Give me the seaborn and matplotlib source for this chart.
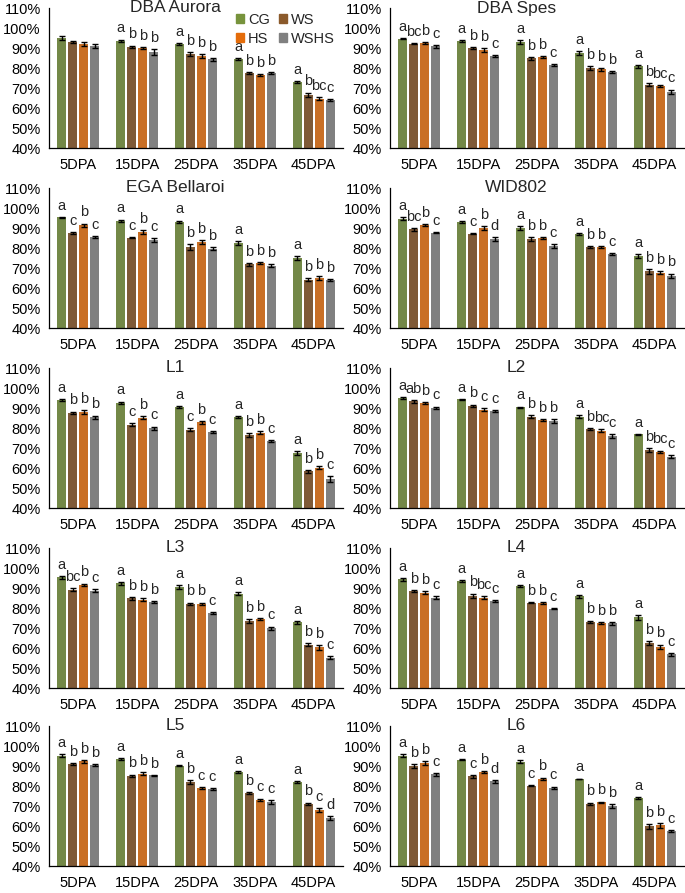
import pandas as pd
import seaborn as sns
import matplotlib.pyplot as plt

sns.set_style('white')
plt.rcParams['font.family'] = ['Liberation Sans', 'DejaVu Sans']

stages = ['5DPA', '15DPA', '25DPA', '35DPA', '45DPA']
treatments = ['CG', 'WS', 'HS', 'WSHS']
palette = {'CG': '#77933C', 'WS': '#8B5A2B', 'HS': '#E46C0A', 'WSHS': '#808080'}

titles = ['DBA Aurora', 'DBA Spes', 'EGA Bellaroi', 'WID802',
          'L1', 'L2', 'L3', 'L4', 'L5', 'L6']

# means (%), one row per stage, columns CG, WS, HS, WSHS
aurora = [[95.0, 93.0, 92.0, 91.0], [93.5, 90.5, 90.0, 88.0], [92.0, 87.0, 86.0, 84.3],
          [84.5, 77.5, 76.5, 77.3], [73.0, 66.5, 64.6, 64.0]]
spes = [[94.7, 92.2, 92.5, 90.8], [93.4, 90.0, 89.0, 86.0], [93.0, 84.8, 85.5, 81.4],
        [87.4, 80.0, 79.3, 78.0], [80.8, 71.6, 71.0, 68.0]]
bellaroi = [[95.3, 87.4, 91.4, 85.5], [93.6, 85.2, 88.0, 84.0], [93.0, 80.6, 83.0, 79.6],
            [82.4, 71.8, 72.5, 71.2], [75.0, 64.2, 65.0, 64.0]]
wid802 = [[94.7, 89.3, 91.3, 87.6], [93.0, 87.2, 90.0, 84.3], [90.0, 84.5, 85.0, 81.0],
          [87.0, 80.5, 80.4, 77.0], [76.0, 68.3, 67.7, 66.0]]
l1 = [[94.0, 87.6, 87.8, 85.3], [92.7, 81.7, 85.2, 79.8], [90.5, 79.2, 82.8, 78.0],
      [85.5, 76.5, 77.7, 73.6], [67.3, 58.3, 60.2, 54.3]]
l2 = [[95.0, 93.3, 92.5, 90.2], [94.3, 91.2, 89.2, 88.3], [90.4, 85.7, 84.0, 83.5],
      [85.7, 79.5, 78.7, 75.8], [76.8, 69.0, 68.0, 65.7]]
l3 = [[95.3, 89.2, 91.7, 88.7], [92.3, 84.8, 84.2, 83.0], [90.5, 82.0, 82.2, 77.6],
      [87.2, 73.5, 74.5, 69.8], [72.8, 61.7, 60.3, 55.2]]
l4 = [[94.3, 88.5, 87.7, 85.2], [93.5, 86.2, 85.2, 83.5], [91.0, 82.7, 82.5, 79.7],
      [85.8, 73.2, 72.5, 72.3], [75.3, 62.5, 60.5, 56.8]]
l5 = [[95.2, 91.0, 92.3, 90.5], [93.5, 85.2, 86.2, 85.3], [90.2, 81.8, 79.0, 78.5],
      [87.0, 76.3, 73.2, 72.0], [82.0, 71.0, 67.8, 64.0]]
l6 = [[95.2, 90.0, 91.5, 85.8], [93.2, 84.8, 87.0, 82.3], [92.2, 80.2, 83.5, 79.2],
      [83.5, 71.1, 71.8, 70.0], [73.8, 59.8, 60.3, 57.5]]

# standard errors (%)
aurora_err = [[0.8, 0.7, 1.2, 0.8], [0.7, 0.7, 0.5, 1.5], [0.6, 1.0, 0.8, 0.6],
              [0.6, 0.3, 0.3, 0.5], [0.4, 1.2, 0.7, 0.3]]
spes_err = [[0.3, 0.3, 0.3, 0.8], [0.5, 0.5, 0.8, 0.6], [0.8, 0.8, 0.5, 0.5],
            [1.0, 0.8, 0.8, 0.6], [0.8, 0.8, 0.6, 1.2]]
bellaroi_err = [[0.3, 0.5, 0.8, 0.5], [0.6, 0.4, 0.8, 1.0], [0.7, 1.5, 0.9, 0.7],
                [0.9, 0.6, 0.3, 0.7], [1.0, 0.8, 0.8, 0.6]]
wid802_err = [[0.8, 0.8, 0.5, 0.3], [0.5, 0.3, 0.8, 1.0], [0.8, 0.8, 0.6, 1.0],
              [0.6, 0.5, 0.6, 0.5], [0.8, 1.2, 0.8, 1.2]]
l1_err = [[0.5, 0.6, 1.0, 0.9], [0.5, 0.8, 0.9, 0.9], [0.4, 0.9, 0.7, 0.6],
          [0.6, 0.8, 0.8, 0.5], [1.0, 0.8, 0.7, 1.5]]
l2_err = [[0.3, 0.8, 0.3, 0.5], [0.3, 0.5, 0.8, 0.5], [0.3, 0.8, 0.6, 0.8],
          [0.8, 0.5, 0.7, 1.0], [0.3, 0.9, 0.7, 0.8]]
l3_err = [[0.6, 0.7, 0.5, 0.9], [0.6, 0.7, 0.6, 0.4], [0.8, 0.7, 0.5, 0.5],
          [0.9, 1.0, 0.5, 0.9], [0.6, 0.6, 1.2, 0.7]]
l4_err = [[0.6, 0.3, 0.6, 0.6], [0.6, 1.0, 0.6, 0.6], [0.5, 0.4, 0.6, 0.3],
          [0.6, 0.5, 0.5, 0.6], [1.2, 1.0, 1.2, 0.7]]
l5_err = [[0.7, 0.5, 0.8, 0.5], [0.5, 0.5, 0.9, 0.3], [0.4, 1.0, 0.5, 0.3],
          [0.4, 0.5, 0.5, 0.8], [0.4, 0.7, 1.0, 0.8]]
l6_err = [[0.8, 0.8, 0.8, 0.7], [0.2, 0.7, 0.6, 0.6], [0.8, 0.4, 0.7, 0.5],
          [0.2, 0.6, 0.4, 0.8], [0.5, 1.2, 1.2, 0.6]]

# letters of significance
aurora_let = [['', '', '', ''], ['a', 'b', 'b', 'b'], ['a', 'b', 'b', 'b'],
              ['a', 'b', 'b', 'b'], ['a', 'b', 'bc', 'c']]
spes_let = [['a', 'bc', 'b', 'c'], ['a', 'b', 'b', 'c'], ['a', 'b', 'b', 'c'],
            ['a', 'b', 'b', 'b'], ['a', 'b', 'bc', 'c']]
bellaroi_let = [['a', 'c', 'b', 'c'], ['a', 'c', 'b', 'c'], ['a', 'b', 'b', 'b'],
                ['a', 'b', 'b', 'b'], ['a', 'b', 'b', 'b']]
wid802_let = [['a', 'bc', 'b', 'c'], ['a', 'c', 'b', 'd'], ['a', 'b', 'b', 'c'],
              ['a', 'b', 'b', 'c'], ['a', 'b', 'b', 'b']]
l1_let = [['a', 'b', 'b', 'b'], ['a', 'c', 'b', 'c'], ['a', 'c', 'b', 'c'],
          ['a', 'b', 'b', 'c'], ['a', 'b', 'b', 'c']]
l2_let = [['a', 'ab', 'b', 'c'], ['a', 'b', 'c', 'c'], ['a', 'b', 'b', 'b'],
          ['a', 'b', 'bc', 'c'], ['a', 'b', 'bc', 'c']]
l3_let = [['a', 'bc', 'b', 'c'], ['a', 'b', 'b', 'b'], ['a', 'b', 'b', 'c'],
          ['a', 'b', 'b', 'c'], ['a', 'b', 'b', 'c']]
l4_let = [['a', 'b', 'b', 'c'], ['a', 'b', 'bc', 'c'], ['a', 'b', 'b', 'c'],
          ['a', 'b', 'b', 'b'], ['a', 'b', 'b', 'c']]
l5_let = [['a', 'b', 'b', 'b'], ['a', 'b', 'b', 'b'], ['a', 'b', 'c', 'c'],
          ['a', 'b', 'c', 'c'], ['a', 'b', 'c', 'd']]
l6_let = [['a', 'b', 'b', 'c'], ['a', 'c', 'b', 'd'], ['a', 'c', 'b', 'c'],
          ['a', 'b', 'b', 'b'], ['a', 'b', 'b', 'c']]

means = [aurora, spes, bellaroi, wid802, l1, l2, l3, l4, l5, l6]
errors = [aurora_err, spes_err, bellaroi_err, wid802_err, l1_err,
          l2_err, l3_err, l4_err, l5_err, l6_err]
letters = [aurora_let, spes_let, bellaroi_let, wid802_let, l1_let,
           l2_let, l3_let, l4_let, l5_let, l6_let]

fig = plt.figure(figsize=(6.85, 8.93), dpi=100)
W, H = 685, 893
col_x = [49, 390]
row_top = [8, 188, 368, 548, 726]
ax_w, ax_h = 294, 140

for k, title in enumerate(titles):
    r, c = divmod(k, 2)
    ax = fig.add_axes([col_x[c] / W, 1 - (row_top[r] + ax_h) / H, ax_w / W, ax_h / H])

    rows = []
    for i, st in enumerate(stages):
        for j, tr in enumerate(treatments):
            rows.append({'stage': st, 'treatment': tr, 'value': means[k][i][j],
                         'err': errors[k][i][j], 'letter': letters[k][i][j]})
    df = pd.DataFrame(rows)

    sns.barplot(data=df, x='stage', y='value', hue='treatment', order=stages,
                hue_order=treatments, palette=palette, width=0.75, gap=0.18,
                linewidth=0, errorbar=None, legend=False, ax=ax)

    for j, tr in enumerate(treatments):
        sub = df[df['treatment'] == tr]
        xs = [p.get_x() + p.get_width() / 2 for p in ax.containers[j]]
        ax.errorbar(xs, sub['value'], yerr=sub['err'], fmt='none', ecolor='black',
                    elinewidth=1, capsize=2.5, capthick=1)
        for x, v, e, t in zip(xs, sub['value'], sub['err'], sub['letter']):
            if t:
                ax.annotate(t, (x, v + e), xytext=(0, 3), textcoords='offset points',
                            ha='center', va='bottom', fontsize=10.5)

    ax.set_ylim(40, 110)
    ax.set_xlim(-0.5, 4.5)
    ax.set_yticks(range(40, 111, 10))
    ax.set_yticklabels([f'{v}%' for v in range(40, 111, 10)])
    ax.set_xlabel('')
    ax.set_ylabel('')
    sns.despine(ax=ax)
    for s in ['left', 'bottom']:
        ax.spines[s].set_color('black')
        ax.spines[s].set_linewidth(0.9)
    ax.tick_params(axis='both', direction='out', length=3, width=0.9,
                   colors='black', labelsize=10.5)
    ax.tick_params(axis='x', pad=4)
    ax.tick_params(axis='y', pad=3)
    ax.text(0.43, 1.0, title, transform=ax.transAxes, ha='center', va='center',
            fontsize=12.5)

    if k == 0:
        handles = [plt.Rectangle((0, 0), 1, 1, color=palette[t]) for t in ['CG', 'HS', 'WS', 'WSHS']]
        ax.legend(handles, ['CG', 'HS', 'WS', 'WSHS'], ncol=2, loc='upper left',
                  bbox_to_anchor=(0.6, 1.04), frameon=False, fontsize=10.5,
                  handlelength=0.6, handleheight=0.6, handletextpad=0.25,
                  columnspacing=0.6, labelspacing=0.35, borderpad=0.2)

fig.savefig('out.png', dpi=100)
